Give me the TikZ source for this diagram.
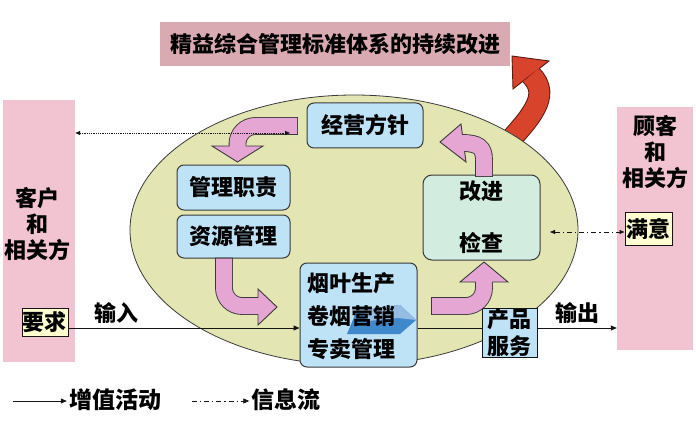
\documentclass[tikz,border=0pt]{standalone}
\usepackage{fontspec}
\newfontfamily\cjk{Noto Sans CJK SC}
\usetikzlibrary{arrows.meta,calc,positioning,shapes.geometric}
\definecolor{Ink}{HTML}{151515}
\definecolor{Edge}{HTML}{3A3A3A}
\definecolor{Rose}{HTML}{F2C3D0}
\definecolor{Dusk}{HTML}{DAAAB2}
\definecolor{Olive}{HTML}{E3E5B3}
\definecolor{Sky}{HTML}{BEE2F6}
\definecolor{Mint}{HTML}{D2ECE0}
\definecolor{Orchid}{HTML}{E6A6D3}
\definecolor{Flame}{HTML}{D8432B}
\definecolor{Maroon}{HTML}{5A1A10}
\definecolor{Cream}{HTML}{FFFFD2}
\definecolor{Cobalt}{HTML}{3F88CC}
% body outline, head, body fill
\newcommand{\fatarrow}[6]{%
  \draw[line width=#4,draw=#2,shorten <=-0.9pt] #5;
  \filldraw[fill=#1,draw=#2,line width=0.9pt,line join=miter] #6 -- cycle;
  \draw[line width=#3,draw=#1] #5;}

\begin{document}
\begin{tikzpicture}[x=1pt,y=-1pt,
    font=\cjk\bfseries\fontsize{22}{26}\selectfont,
    band/.style={fill=Rose,inner sep=0pt},
    card/.style={rounded corners=7pt,draw=Edge,fill=Sky,line width=1pt,inner sep=2pt},
    tag/.style={draw=Ink,fill=Cream,line width=0.9pt,inner sep=1pt},
    flow/.style={-{Triangle[length=6pt,width=5pt]},line width=0.8pt,draw=Ink},
    info/.style={{Triangle[length=5pt,width=4pt]}-{Triangle[length=5pt,width=4pt]},
                 line width=0.8pt,draw=Ink},
    dashdot/.style={dash pattern=on 5pt off 3pt on 1.2pt off 3pt}]
    \useasboundingbox (0,0) rectangle (696,425);

    % title and the two customer columns
    \node[fill=Dusk,minimum width=350pt,minimum height=44pt] (title) at (335,44.5)
      {精益综合管理标准体系的持续改进};
    \node[band,minimum width=72pt,minimum height=262pt] (custL) at (39,231) {};
    \node[align=center] (custLtext) at (38,224) {客户\\和\\相关方};
    \node[tag,minimum width=46pt,minimum height=28pt] (req) at (45,322) {要求};
    \node[band,minimum width=76pt,minimum height=243pt] (custR) at (655,228.5) {};
    \node[align=center] (custRtext) at (655,152) {顾客\\和\\相关方};
    \node[tag,minimum width=47pt,minimum height=33pt] (sat) at (648.5,228.5) {满意};

    % red arrow behind the ellipse
    \fatarrow{Flame}{Maroon}{20pt}{22pt}
      {(503,148) .. controls (530,118) and (552,96) .. (531,75)}
      {(512,56) -- (513,89) -- (549,61)}

    \node[ellipse,draw=Edge,fill=Olive,line width=0.8pt,inner sep=0pt,
          minimum width=448pt,minimum height=270pt] (core) at (354,230) {};

    % boxes
    \node[card,minimum width=116pt,minimum height=45pt] (policy) at (365,125.5) {经营方针};
    \node[card,minimum width=113pt,minimum height=45pt] (duty) at (233.5,187.5) {管理职责};
    \node[card,minimum width=113pt,minimum height=43pt] (resource) at (233.5,236.5) {资源管理};
    \node[card,minimum width=117pt,minimum height=104pt] (prod) at (358.5,315) {};
    \fill[Cobalt] (347,334) -- (357,310) -- (400,305) -- (416,320) -- (400,334) -- cycle;
    \fill[Cobalt!55!white] (357,310) -- (400,305) -- (416,320) -- (398,318) -- (368,321) -- cycle;
    \node[align=left,font=\cjk\bfseries\fontsize{22}{33}\selectfont] (prodtext) at (351,316)
      {烟叶生产\\卷烟营销\\专卖管理};
    \node[card,fill=Mint,rounded corners=9pt,minimum width=117pt,minimum height=85pt,
          align=center,font=\cjk\bfseries\fontsize{22}{52}\selectfont] (improve) at (481.5,217.5)
      {改进\\检查};
    \node[draw=Ink,fill=Sky,line width=1pt,inner sep=0pt,minimum width=55pt,minimum height=49pt,
          align=center,font=\cjk\bfseries\fontsize{22}{27}\selectfont] (product) at (509.5,332.5)
      {产品\\服务};

    % pink cycle arrows
    \fatarrow{Orchid}{Edge}{16pt}{17.8pt}
      {[rounded corners=18pt] (297,126) -- (237.5,126) -- (237.5,147)}
      {(212,146) -- (263,146) -- (237.5,162)}
    \fatarrow{Orchid}{Edge}{16pt}{17.8pt}
      {[rounded corners=18pt] (224,258.5) -- (224,306) -- (259,306)}
      {(258,289) -- (258,325) -- (277,307)}
    \fatarrow{Orchid}{Edge}{16pt}{17.8pt}
      {[rounded corners=18pt] (432,306) -- (484,306) -- (484,281)}
      {(460,282) -- (508,282) -- (484,262)}
    \fatarrow{Orchid}{Edge}{16pt}{17.8pt}
      {(484,176) -- (484,160) .. controls (484,147) and (478,143) .. (462,143)}
      {(440,142) -- (461,124) -- (466,162)}

    % input / output
    \coordinate (inrow) at ([yshift=-6pt]req.east);
    \draw[flow] (inrow) -- (inrow -| prod.west)
      node[pos=0.21,above=1pt] (inlabel) {输入};
    \draw[line width=0.8pt,draw=Ink] (inrow -| prod.east) -- (inrow -| product.west);
    \draw[flow] (inrow -| product.east) -- (inrow -| custR.west)
      node[midway,above=1pt] (outlabel) {输出};

    % information flows
    \coordinate (infoTop) at (290,133);
    \draw[info,densely dotted] (custL.east |- infoTop) -- (infoTop);
    \coordinate (infoSide) at (550,232);
    \draw[info,dashdot] (infoSide) -- (sat.west |- infoSide);

    % legend
    \node[font=\cjk\bfseries\fontsize{23}{26}\selectfont,inner sep=2pt] (lgValue) at (115,400) {增值活动};
    \node[font=\cjk\bfseries\fontsize{23}{26}\selectfont,inner sep=2pt] (lgInfo) at (286,400) {信息流};
    \coordinate (lgA) at (13,401);
    \coordinate (lgB) at (192,401);
    \draw[flow] (lgA) -- (lgA -| lgValue.west);
    \draw[flow,dashdot] (lgB) -- (lgB -| lgInfo.west);
\end{tikzpicture}
\end{document}
